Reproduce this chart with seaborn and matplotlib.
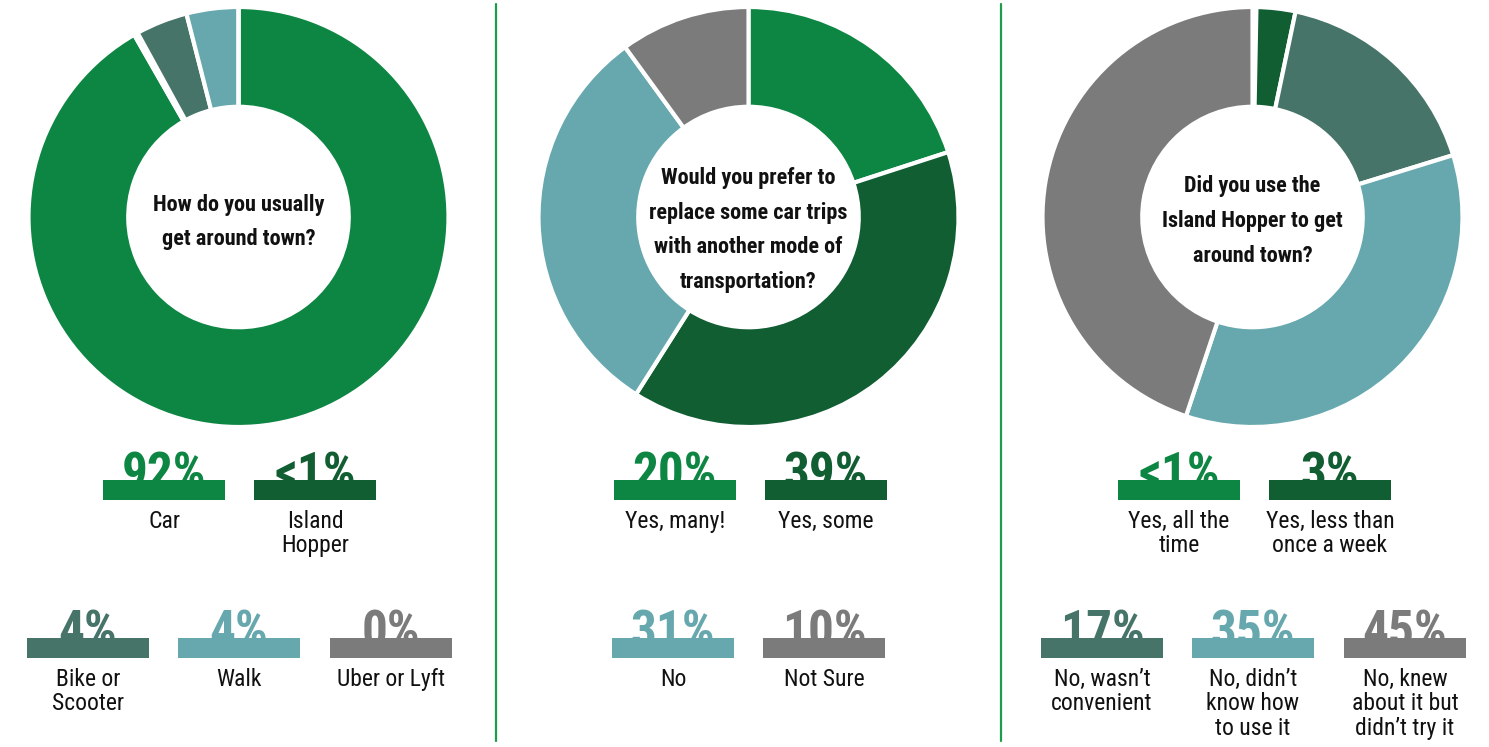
import matplotlib
matplotlib.use("Agg")
import matplotlib.pyplot as plt
import seaborn as sns
from matplotlib.patches import Rectangle

sns.set_theme(style="white")
plt.rcParams['font.family'] = ['Roboto Condensed', 'DejaVu Sans']

# ---------------- data ----------------
GREEN = "#0E8643"
DKGREEN = "#125E33"
DKTEAL = "#467468"
TEAL = "#66A8AE"
GRAY = "#7B7B7B"

q1_title = "How do you usually\nget around town?"
q1_labels = ["Car", "Island\nHopper", "Bike or\nScooter", "Walk", "Uber or Lyft"]
q1_pct = ["92%", "<1%", "4%", "4%", "0%"]
q1_values = [92, 0.3, 4, 4, 0]
q1_colors = [GREEN, DKGREEN, DKTEAL, TEAL, GRAY]

q2_title = "Would you prefer to\nreplace some car trips\nwith another mode of\ntransportation?"
q2_labels = ["Yes, many!", "Yes, some", "No", "Not Sure"]
q2_pct = ["20%", "39%", "31%", "10%"]
q2_values = [20, 39, 31, 10]
q2_colors = [GREEN, DKGREEN, TEAL, GRAY]

q3_title = "Did you use the\nIsland Hopper to get\naround town?"
q3_labels = ["Yes, all the\ntime", "Yes, less than\nonce a week", "No, wasn\u2019t\nconvenient",
             "No, didn\u2019t\nknow how\nto use it", "No, knew\nabout it but\ndidn\u2019t try it"]
q3_pct = ["<1%", "3%", "17%", "35%", "45%"]
q3_values = [0.3, 3, 17, 35, 45]
q3_colors = [GREEN, DKGREEN, DKTEAL, TEAL, GRAY]

# ---------------- layout ----------------
W, H, DPI = 1489, 747, 100
fig = plt.figure(figsize=(W / DPI, H / DPI), dpi=DPI)
fig.patch.set_facecolor("white")

R = 210
CY = 217
centers_x = [238.5, 748.5, 1252.5]
title_y = [222, 230, 221]

charts = [
    (q1_title, q1_labels, q1_pct, q1_values, q1_colors,
     [(103, 480), (254, 480), (27, 638), (178, 638), (330, 638)]),
    (q2_title, q2_labels, q2_pct, q2_values, q2_colors,
     [(614, 480), (765, 480), (612, 638), (763, 638)]),
    (q3_title, q3_labels, q3_pct, q3_values, q3_colors,
     [(1118, 480), (1269, 480), (1041, 638), (1192, 638), (1344, 638)]),
]

BAR_W, BAR_H = 122, 20

overlay = fig.add_axes([0, 0, 1, 1], zorder=5)
overlay.set_xlim(0, W)
overlay.set_ylim(H, 0)
overlay.axis("off")

for i, (title, labels, pcts, values, colors, pos) in enumerate(charts):
    cx = centers_x[i]
    ax = fig.add_axes([(cx - R) / W, 1 - (CY + R) / H, 2 * R / W, 2 * R / H])
    ax.pie(values, colors=colors, startangle=90, counterclock=False, radius=1,
           wedgeprops=dict(width=0.475, edgecolor="white", linewidth=3))
    ax.set_xlim(-1, 1)
    ax.set_ylim(-1, 1)
    ax.set_aspect("equal")
    ax.axis("off")

    overlay.text(cx, title_y[i], title, ha="center", va="center", fontsize=16,
                 fontweight="bold", color="#111111", linespacing=1.75)

    for lab, pct, col, (x0, y0) in zip(labels, pcts, colors, pos):
        xc = x0 + BAR_W / 2
        overlay.text(xc, y0 + 9, pct, ha="center", va="baseline", fontsize=37,
                     fontweight="heavy", color=col, zorder=1)
        overlay.add_patch(Rectangle((x0, y0), BAR_W, BAR_H, facecolor=col,
                                    edgecolor="none", zorder=2))
        overlay.text(xc, y0 + BAR_H + 10, lab, ha="center", va="top", fontsize=17,
                     color="#111111", linespacing=1.08, zorder=3)

# separators
for xs in [496, 1001]:
    overlay.plot([xs, xs], [4, 741], color="#1E9B4B", linewidth=1.6, zorder=1)

fig.savefig("out.png", dpi=DPI, facecolor="white")
